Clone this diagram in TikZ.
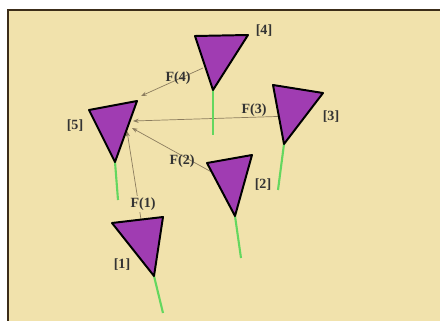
\documentclass[tikz,border=0pt]{standalone}
\usepackage{fontspec}
\setmainfont{Liberation Serif}
\usepackage{tikz}
\usetikzlibrary{arrows.meta,positioning}
\definecolor{cSand}{RGB}{241,226,172}
\definecolor{cFrame}{RGB}{60,45,25}
\definecolor{cViolet}{RGB}{160,60,178}
\definecolor{cStem}{RGB}{100,215,95}
\definecolor{cForce}{RGB}{140,125,95}
\tikzset{
  antenna/.style={draw=black,fill=cViolet,line width=1.4pt,line join=round},
  stem/.style={draw=cStem,line width=1.5pt},
  tag/.style={font=\fontsize{10}{12}\selectfont\bfseries,text=black!80,inner sep=1pt},
  farr/.style={-{Stealth[length=4pt,width=3pt]},draw=cForce,line width=0.5pt}
}

\begin{document}
\begin{tikzpicture}[x=0.025cm,y=-0.025cm]
  \useasboundingbox (0,0) rectangle (440,321);
  \fill[white] (0,0) rectangle (440,321);
  \fill[cSand] (8,10) rectangle (440,321);
  \draw[cFrame,line width=1.2pt] (8,321) -- (8,10) -- (440,10);

  % force lines towards [5]
  \coordinate (src4) at (203,68);  \coordinate (dst4) at (141,96);
  \coordinate (src3) at (293,116); \coordinate (dst3) at (133,121);
  \coordinate (src2) at (226,180); \coordinate (dst2) at (132,128);
  \coordinate (src1) at (143,232); \coordinate (dst1) at (127,131);
  \draw[farr] (src4) -- (dst4);
  \draw[farr] (src3) -- (dst3);
  \draw[farr] (src2) -- (dst2);
  \draw[farr] (src1) -- (dst1);

  % antennas
  \draw[stem] (213,90) -- (213,135);
  \draw[antenna] (195,36) -- (248,35) -- (213,90) -- cycle;
  \draw[stem] (284,144) -- (278,190);
  \draw[antenna] (273,85) -- (323,93) -- (284,144) -- cycle;
  \draw[stem] (115,162) -- (118,200);
  \draw[antenna] (89,110) -- (137,101) -- (115,162) -- cycle;
  \draw[stem] (235,216) -- (241,258);
  \draw[antenna] (207,163) -- (252,155) -- (235,216) -- cycle;
  \draw[stem] (154,276) -- (163,313);
  \draw[antenna] (112,223) -- (163,217) -- (154,276) -- cycle;

  % labels
  \node[tag] (n4) at (264,31) {[4]};
  \node[tag] (n3) at (331,117) {[3]};
  \node[tag] (n5) at (75,126) {[5]};
  \node[tag] (n2) at (263,185) {[2]};
  \node[tag] (n1) at (122,265) {[1]};
  \node[tag] (f4) at (178,78) {F(4)};
  \node[tag] (f3) at (254,110) {F(3)};
  \node[tag] (f2) at (182,161) {F(2)};
  \node[tag,fill=cSand] (f1) at (143,204) {F(1)};
\end{tikzpicture}
\end{document}
